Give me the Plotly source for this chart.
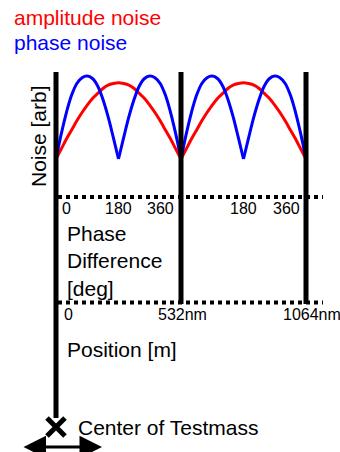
import plotly.graph_objects as go

# Phase difference grid (deg) over one period, and noise levels in arbitrary units
phase_deg = [0, 15, 30, 45, 60, 75, 90, 105, 120, 135, 150, 165, 180,
             195, 210, 225, 240, 255, 270, 285, 300, 315, 330, 345, 360]
amplitude_noise = [0.00, 0.12, 0.24, 0.35, 0.46, 0.56, 0.65, 0.73, 0.79, 0.85, 0.89, 0.91, 0.92,
                   0.91, 0.89, 0.85, 0.79, 0.73, 0.65, 0.56, 0.46, 0.35, 0.24, 0.12, 0.00]
phase_noise = [0.00, 0.30, 0.56, 0.77, 0.91, 0.98, 1.00, 0.97, 0.88, 0.72, 0.51, 0.26, 0.00,
               0.26, 0.51, 0.72, 0.88, 0.97, 1.00, 0.98, 0.91, 0.77, 0.56, 0.30, 0.00]
n_periods = 2

# Axis labels
phase_tick_pos = [0, 180, 360, 540, 720]
phase_tick_text = ["0", "180", "360", "180", "360"]
position_tick_pos = [0, 360, 720]
position_tick_text = ["0", "532nm", "1064nm"]

W, H = 340, 452
FONT = "Liberation Sans, Arial, sans-serif"


def fx(px):
    return px / W


def fy(py):
    return 1 - py / H


def segments(xs, ys, cuts):
    """Split a curve at the given indices so the cusps stay sharp."""
    out_x, out_y = [], []
    bounds = [0] + cuts + [len(xs) - 1]
    for a, b in zip(bounds[:-1], bounds[1:]):
        out_x += xs[a:b + 1] + [None]
        out_y += ys[a:b + 1] + [None]
    return out_x, out_y


fig = go.Figure()

red_x, red_y, blue_x, blue_y = [], [], [], []
mid = phase_deg.index(180)
for k in range(n_periods):
    shifted = [p + 360 * k for p in phase_deg]
    sx, sy = segments(shifted, amplitude_noise, [])
    red_x += sx
    red_y += sy
    sx, sy = segments(shifted, phase_noise, [mid])
    blue_x += sx
    blue_y += sy

fig.add_trace(go.Scatter(x=red_x, y=red_y, mode="lines", line=dict(color="#ff0000", width=3, shape="spline"),
                         name="amplitude noise", hoverinfo="skip"))
fig.add_trace(go.Scatter(x=blue_x, y=blue_y, mode="lines", line=dict(color="#0000ff", width=3, shape="spline"),
                         name="phase noise", hoverinfo="skip"))

# Center of the test mass
fig.add_trace(go.Scatter(x=[0], y=[(159 - 427) / 83], mode="markers",
                         marker=dict(symbol="x-thin", size=18, line=dict(color="black", width=5)),
                         hoverinfo="skip"))

shapes = []
for b in position_tick_pos:
    shapes.append(dict(type="line", xref="x", yref="paper", x0=b, x1=b,
                       y0=fy(72), y1=fy(418 if b == 0 else 304),
                       line=dict(color="black", width=5)))
for py in (197, 302.5):
    shapes.append(dict(type="line", xref="paper", yref="paper", x0=fx(58), x1=fx(323),
                       y0=fy(py), y1=fy(py), line=dict(color="black", width=4, dash="4px,4px")))

ann = []


def label(text, x, y, xref="paper", size=21, color="black", xanchor="left", xshift=0, **kw):
    ann.append(dict(text=text, x=x, y=y, xref=xref, yref="paper", showarrow=False,
                    xanchor=xanchor, yanchor="middle", xshift=xshift, align="left",
                    font=dict(family=FONT, size=size, color=color), **kw))


label("amplitude noise", fx(12), fy(18), color="#ff0000")
label("phase noise", fx(12), fy(43), color="#0000ff")
label("Noise [arb]", fx(38), fy(136), xanchor="center", textangle=-90)

tick_anchor = ["left", "center", "right", "center", "right"]
tick_shift = [4, 0, -5, 0, -4]
for pos, txt, anc, sh in zip(phase_tick_pos, phase_tick_text, tick_anchor, tick_shift):
    label(txt, pos, fy(208), xref="x", size=16, xanchor=anc, xshift=sh)

pos_anchor = ["left", "center", "left"]
pos_shift = [6, 1, -25]
for pos, txt, anc, sh in zip(position_tick_pos, position_tick_text, pos_anchor, pos_shift):
    label(txt, pos, fy(314), xref="x", size=16, xanchor=anc, xshift=sh)

label("Phase<br>Difference<br>[deg]", fx(65), fy(261))
label("Position [m]", fx(65), fy(349))
label("Center of Testmass", fx(76), fy(427))

# Double-headed arrow under the test mass
ann.append(dict(x=fx(102), y=fy(447), xref="paper", yref="paper", ax=-80, ay=0,
                text="", showarrow=True, arrowhead=2, startarrowhead=2, arrowside="end+start",
                arrowsize=1.5, startarrowsize=1.5, arrowwidth=3, arrowcolor="black",
                standoff=0, startstandoff=0))

fig.update_layout(
    width=W, height=H, autosize=False,
    margin=dict(l=0, r=0, t=0, b=0, pad=0),
    paper_bgcolor="white", plot_bgcolor="white",
    showlegend=False,
    xaxis=dict(range=[-56 * 360 / 125, (W - 56) * 360 / 125], visible=False, fixedrange=True),
    yaxis=dict(range=[(159 - H) / 83, 159 / 83], visible=False, fixedrange=True),
    shapes=shapes, annotations=ann,
)

fig.write_html("out.html", config={"displayModeBar": False})
